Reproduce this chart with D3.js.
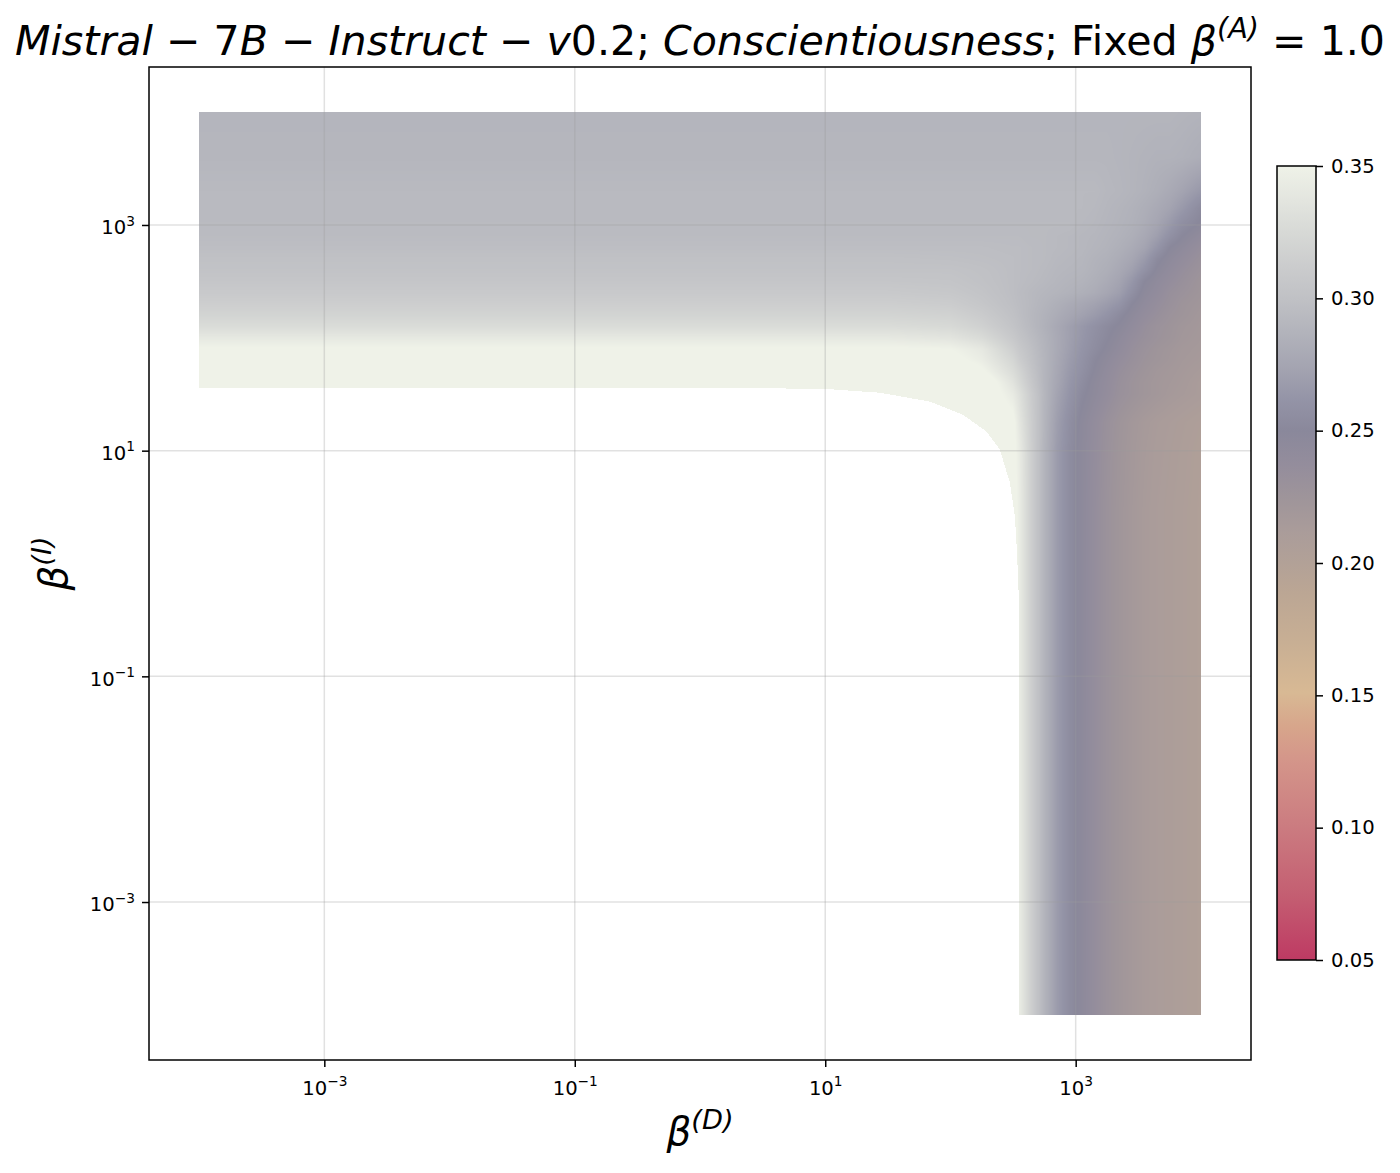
<!DOCTYPE html>
<html>
<head>
<meta charset="utf-8">
<script src="https://cdn.jsdelivr.net/npm/d3@7"></script>
<style>
  body { margin: 0; background: #fff; }
  svg { display: block; font-family: "DejaVu Sans", sans-serif; }
</style>
</head>
<body>
<svg id="chart" width="1400" height="1173"></svg>
<script>
// ---------------- DATA ----------------
// grid nodes (log10 of beta values)
const logBetaD = [-4, -2, 0, 1, 1.5, 2, 2.25, 2.5, 2.55, 2.65, 2.75, 2.85, 2.95, 3.05, 3.15, 3.25, 3.35, 3.45, 3.55, 3.65, 3.75, 3.85, 4];
const logBetaI = [-4, 0, 0.5, 1, 1.25, 1.5, 1.6, 1.7, 1.8, 1.9, 2, 2.1, 2.2, 2.3, 2.4, 2.5, 2.6, 2.7, 2.8, 2.9, 3, 3.15, 3.3, 3.6, 4];
const n = null;
// one row per logBetaI node (bottom to top), one value per logBetaD node; null = no value
const scoreRows = [
  [n, n, n, n, n, n, n, n, .344, .313, .288, .268, .255, .246, .237, .229, .223, .218, .214, .211, .209, .207, .203],
  [n, n, n, n, n, n, n, n, .344, .313, .288, .268, .255, .246, .237, .229, .223, .218, .214, .211, .209, .207, .203],
  [n, n, n, n, n, n, n, n, .344, .313, .288, .268, .255, .246, .237, .229, .223, .218, .214, .211, .209, .207, .203],
  [n, n, n, n, n, n, n, .355, .343, .313, .288, .268, .255, .246, .238, .230, .224, .219, .215, .212, .210, .208, .204],
  [n, n, n, n, n, n, .370, .355, .338, .312, .289, .270, .257, .247, .239, .231, .225, .220, .216, .213, .211, .209, .206],
  [n, n, n, n, n, .375, .365, .342, .332, .310, .290, .274, .262, .252, .245, .238, .231, .227, .223, .220, .217, .215, .212],
  [.380, .380, .380, .380, .380, .375, .365, .335, .325, .306, .289, .276, .264, .255, .246, .239, .232, .227, .223, .220, .218, .216, .212],
  [.370, .370, .370, .370, .370, .368, .353, .328, .320, .303, .289, .277, .266, .258, .249, .241, .234, .229, .225, .221, .219, .217, .214],
  [.360, .360, .360, .360, .360, .356, .345, .322, .313, .300, .289, .278, .268, .260, .251, .244, .237, .232, .227, .224, .221, .218, .216],
  [.352, .352, .352, .352, .352, .350, .340, .315, .308, .298, .288, .279, .270, .262, .255, .248, .241, .234, .229, .225, .222, .219, .217],
  [.340, .340, .340, .340, .340, .336, .327, .308, .303, .295, .287, .279, .271, .264, .257, .251, .244, .237, .232, .228, .225, .221, .218],
  [.328, .328, .328, .328, .328, .325, .317, .303, .299, .292, .285, .278, .271, .265, .259, .253, .248, .241, .234, .229, .226, .222, .219],
  [.320, .320, .320, .320, .320, .318, .311, .300, .297, .291, .286, .281, .276, .272, .267, .261, .253, .245, .238, .233, .228, .225, .220],
  [.314, .314, .314, .314, .314, .312, .306, .298, .296, .292, .288, .284, .280, .277, .273, .268, .262, .250, .242, .236, .231, .226, .222],
  [.309, .309, .309, .309, .309, .307, .303, .297, .295, .292, .290, .288, .286, .284, .281, .276, .270, .258, .246, .240, .233, .229, .224],
  [.305, .305, .305, .305, .305, .304, .301, .297, .296, .294, .292, .290, .288, .287, .284, .280, .274, .264, .250, .243, .237, .232, .225],
  [.302, .302, .302, .302, .302, .302, .300, .297, .296, .295, .293, .291, .290, .289, .286, .283, .278, .271, .260, .248, .241, .235, .228],
  [.300, .300, .300, .300, .300, .299, .298, .297, .296, .295, .294, .292, .291, .290, .287, .285, .281, .276, .267, .253, .245, .239, .231],
  [.297, .297, .297, .297, .297, .297, .297, .296, .296, .295, .294, .293, .292, .291, .289, .287, .284, .280, .274, .263, .250, .244, .235],
  [.295, .295, .295, .295, .295, .295, .295, .295, .295, .294, .294, .293, .292, .291, .290, .288, .286, .283, .278, .270, .259, .250, .241],
  [.294, .294, .294, .294, .294, .294, .294, .294, .294, .294, .294, .294, .294, .292, .291, .289, .287, .285, .281, .275, .266, .256, .248],
  [.293, .293, .293, .293, .293, .293, .293, .293, .293, .293, .293, .293, .293, .293, .292, .290, .288, .286, .283, .279, .274, .266, .253],
  [.293, .293, .293, .293, .293, .293, .293, .293, .293, .293, .293, .293, .293, .293, .293, .291, .290, .288, .286, .283, .279, .274, .265],
  [.290, .290, .290, .290, .290, .290, .290, .290, .290, .290, .290, .290, .290, .290, .290, .290, .289, .288, .287, .286, .286, .285, .282],
  [.289, .289, .289, .289, .289, .289, .289, .289, .289, .289, .289, .289, .289, .289, .289, .289, .289, .289, .289, .289, .289, .288, .287]
];
// edge of the empty (no-value) lower-left region, as beta values
const emptyEdgeD = [1e-4, 1.0, 9.6, 27.4, 68.7, 126, 195, 248, 298, 327, 339, 352, 352];
const emptyEdgeI = [36.1, 35.9, 35.4, 32.6, 27.2, 20.8, 14.7, 10.2, 5.21, 2.61, 1.33, 0.48, 1e-4];
const betaMin = 1e-4, betaMax = 1e4;
const axisTicks = [1e-3, 1e-1, 1e1, 1e3];
// colormap
const cmapValues = [0.05, 0.075, 0.10, 0.126, 0.138, 0.151, 0.170, 0.189, 0.20, 0.212, 0.224, 0.237, 0.25, 0.262, 0.274, 0.287, 0.30, 0.312, 0.325, 0.337, 0.35];
const cmapColors = ["#be3a63", "#c45f72", "#cb7b80", "#d4968a", "#d7a58b", "#d8b994", "#c8af94", "#bba694", "#b2a197", "#aa9c9a", "#9f959a", "#948d9c", "#8a889b", "#9494a7", "#a4a4b1", "#b2b3bb", "#c0c1c5", "#cbcccd", "#d7d9d6", "#e3e5df", "#eff2e8"];
const cbarTicks = [0.05, 0.10, 0.15, 0.20, 0.25, 0.30, 0.35];
const cbMin = 0.05, cbMax = 0.35;

// ---------------- LAYOUT ----------------
const svg = d3.select("#chart");
const plot = { left: 149, right: 1251, top: 67, bottom: 1060 };
const lmin = Math.log10(betaMin), lmax = Math.log10(betaMax);
const padL = 0.05 * (lmax - lmin);
const x = d3.scaleLog().domain([10 ** (lmin - padL), 10 ** (lmax + padL)]).range([plot.left, plot.right]);
const y = d3.scaleLog().domain([10 ** (lmin - padL), 10 ** (lmax + padL)]).range([plot.bottom, plot.top]);

const color = d3.scaleLinear().domain(cmapValues).range(cmapColors).interpolate(d3.interpolateRgb).clamp(true);
const LUTN = 1024;
const lut = d3.range(LUTN).map(k => d3.rgb(color(cbMin + (cbMax - cbMin) * k / (LUTN - 1))));
function lookup(v) {
  let k = Math.round((v - cbMin) / (cbMax - cbMin) * (LUTN - 1));
  k = Math.max(0, Math.min(LUTN - 1, k));
  return lut[k];
}

// ---------------- HEATMAP ----------------
const filled = scoreRows.map(r => r.map(v => v == null ? cbMax + 0.01 : v));
const emptyPoly = [[-99, -99], [-99, Math.log10(emptyEdgeI[0])]]
  .concat(emptyEdgeD.map((d, i) => [Math.log10(d), Math.log10(emptyEdgeI[i])]))
  .concat([[Math.log10(emptyEdgeD[emptyEdgeD.length - 1]), -99]]);

function cell(arr, v) {
  let i = d3.bisectRight(arr, v) - 1;
  i = Math.max(0, Math.min(arr.length - 2, i));
  let t = (v - arr[i]) / (arr[i + 1] - arr[i]);
  t = Math.max(0, Math.min(1, t));
  return [i, t];
}

const hx0 = Math.round(x(betaMin)), hx1 = Math.round(x(betaMax));
const hy0 = Math.round(y(betaMax)), hy1 = Math.round(y(betaMin));
const cw = hx1 - hx0, ch = hy1 - hy0;
const canvas = document.createElement("canvas");
canvas.width = cw; canvas.height = ch;
const ctx = canvas.getContext("2d");
const img = ctx.createImageData(cw, ch);
for (let py = 0; py < ch; py++) {
  const ly = Math.log10(y.invert(hy0 + py + 0.5));
  const [j, ty] = cell(logBetaI, ly);
  for (let px = 0; px < cw; px++) {
    const lx = Math.log10(x.invert(hx0 + px + 0.5));
    if (d3.polygonContains(emptyPoly, [lx, ly])) continue;
    const [i, tx] = cell(logBetaD, lx);
    const v00 = filled[j][i], v01 = filled[j][i + 1], v10 = filled[j + 1][i], v11 = filled[j + 1][i + 1];
    const v = (v00 * (1 - tx) + v01 * tx) * (1 - ty) + (v10 * (1 - tx) + v11 * tx) * ty;
    const c = lookup(v);
    const o = (py * cw + px) * 4;
    img.data[o] = c.r; img.data[o + 1] = c.g; img.data[o + 2] = c.b; img.data[o + 3] = 255;
  }
}
ctx.putImageData(img, 0, 0);
svg.append("image")
  .attr("x", hx0).attr("y", hy0).attr("width", cw).attr("height", ch)
  .attr("href", canvas.toDataURL());

// ---------------- GRID ----------------
const grid = svg.append("g");
grid.selectAll(".gx").data(axisTicks).join("line")
  .attr("x1", d => x(d)).attr("x2", d => x(d)).attr("y1", plot.top).attr("y2", plot.bottom)
  .attr("stroke", "#9b9b9b").attr("stroke-opacity", 0.3).attr("stroke-width", 1.5);
grid.selectAll(".gy").data(axisTicks).join("line")
  .attr("y1", d => y(d)).attr("y2", d => y(d)).attr("x1", plot.left).attr("x2", plot.right)
  .attr("stroke", "#9b9b9b").attr("stroke-opacity", 0.3).attr("stroke-width", 1.5);

// ---------------- AXES ----------------
function sciLabel(textSel) {
  textSel.each(function (d) {
    const e = Math.round(Math.log10(d));
    const t = d3.select(this);
    t.text(null);
    t.append("tspan").text("10");
    t.append("tspan").attr("font-size", "0.7em").attr("dy", "-0.62em")
      .text(e < 0 ? "\u2212" + (-e) : String(e));
  });
}
const tickFont = 19.6;
const gx = svg.append("g").attr("transform", `translate(0,${plot.bottom})`)
  .call(d3.axisBottom(x).tickValues(axisTicks).tickFormat(() => "").tickSize(7).tickPadding(7));
gx.selectAll(".tick text").attr("font-size", tickFont).attr("font-family", "DejaVu Sans").attr("fill", "#000").attr("dy", "1.05em").call(sciLabel);
const gy = svg.append("g").attr("transform", `translate(${plot.left},0)`)
  .call(d3.axisLeft(y).tickValues(axisTicks).tickFormat(() => "").tickSize(7).tickPadding(7));
gy.selectAll(".tick text").attr("font-size", tickFont).attr("font-family", "DejaVu Sans").attr("fill", "#000").attr("dy", "0.45em").call(sciLabel);
[gx, gy].forEach(g => {
  g.select(".domain").remove();
  g.selectAll(".tick line").attr("stroke", "#000").attr("stroke-width", 1.5);
});
svg.append("rect").attr("x", plot.left).attr("y", plot.top)
  .attr("width", plot.right - plot.left).attr("height", plot.bottom - plot.top)
  .attr("fill", "none").attr("stroke", "#000").attr("stroke-width", 1.5);

// ---------------- COLORBAR ----------------
const cb = { left: 1277, right: 1316, top: 166, bottom: 960 };
const cy = d3.scaleLinear().domain([cbMin, cbMax]).range([cb.bottom, cb.top]);
const defs = svg.append("defs");
const grad = defs.append("linearGradient").attr("id", "cbgrad")
  .attr("x1", 0).attr("y1", 1).attr("x2", 0).attr("y2", 0);
grad.selectAll("stop").data(cmapValues).join("stop")
  .attr("offset", d => (d - cbMin) / (cbMax - cbMin))
  .attr("stop-color", (d, i) => cmapColors[i]);
svg.append("rect").attr("x", cb.left).attr("y", cb.top)
  .attr("width", cb.right - cb.left).attr("height", cb.bottom - cb.top)
  .attr("fill", "url(#cbgrad)").attr("stroke", "#000").attr("stroke-width", 1.5);
const gc = svg.append("g").attr("transform", `translate(${cb.right},0)`)
  .call(d3.axisRight(cy).tickValues(cbarTicks).tickFormat(d3.format(".2f")).tickSize(7).tickPadding(8));
gc.select(".domain").remove();
gc.selectAll(".tick line").attr("stroke", "#000").attr("stroke-width", 1.5);
gc.selectAll(".tick text").attr("font-size", tickFont).attr("font-family", "DejaVu Sans").attr("fill", "#000");

// ---------------- LABELS ----------------
function mathText(sel, parts) {
  parts.forEach(p => {
    const ts = sel.append("tspan").text(p.t);
    if (p.it) ts.attr("font-style", "italic");
    if (p.sup) ts.attr("font-size", "0.7em").attr("dy", "-0.6em");
    if (p.down) ts.attr("dy", p.down);
  });
}
const labelFont = 38.9;
const xl = svg.append("text").attr("x", (plot.left + plot.right) / 2).attr("y", 1145)
  .attr("text-anchor", "middle").attr("font-size", labelFont);
mathText(xl, [{ t: "β", it: true }, { t: "(D)", it: true, sup: true }]);
const yl = svg.append("text").attr("transform", `translate(67,${(plot.top + plot.bottom) / 2}) rotate(-90)`)
  .attr("text-anchor", "middle").attr("font-size", labelFont);
mathText(yl, [{ t: "β", it: true }, { t: "(I)", it: true, sup: true }]);

const title = svg.append("text").attr("x", 700).attr("y", 55)
  .attr("text-anchor", "middle").attr("font-size", labelFont);
mathText(title, [
  { t: "Mistral", it: true }, { t: " \u2212 " }, { t: "7" }, { t: "B", it: true }, { t: " \u2212 " },
  { t: "Instruct", it: true }, { t: " \u2212 " }, { t: "v", it: true }, { t: "0.2; " },
  { t: "Conscientiousness", it: true }, { t: ";  Fixed " }, { t: "β", it: true },
  { t: "(A)", it: true, sup: true }, { t: " = 1.0", down: "0.42em" }
]);
const tw = title.node().getComputedTextLength();
title.attr("font-size", labelFont * 1370 / tw);
</script>
</body>
</html>
